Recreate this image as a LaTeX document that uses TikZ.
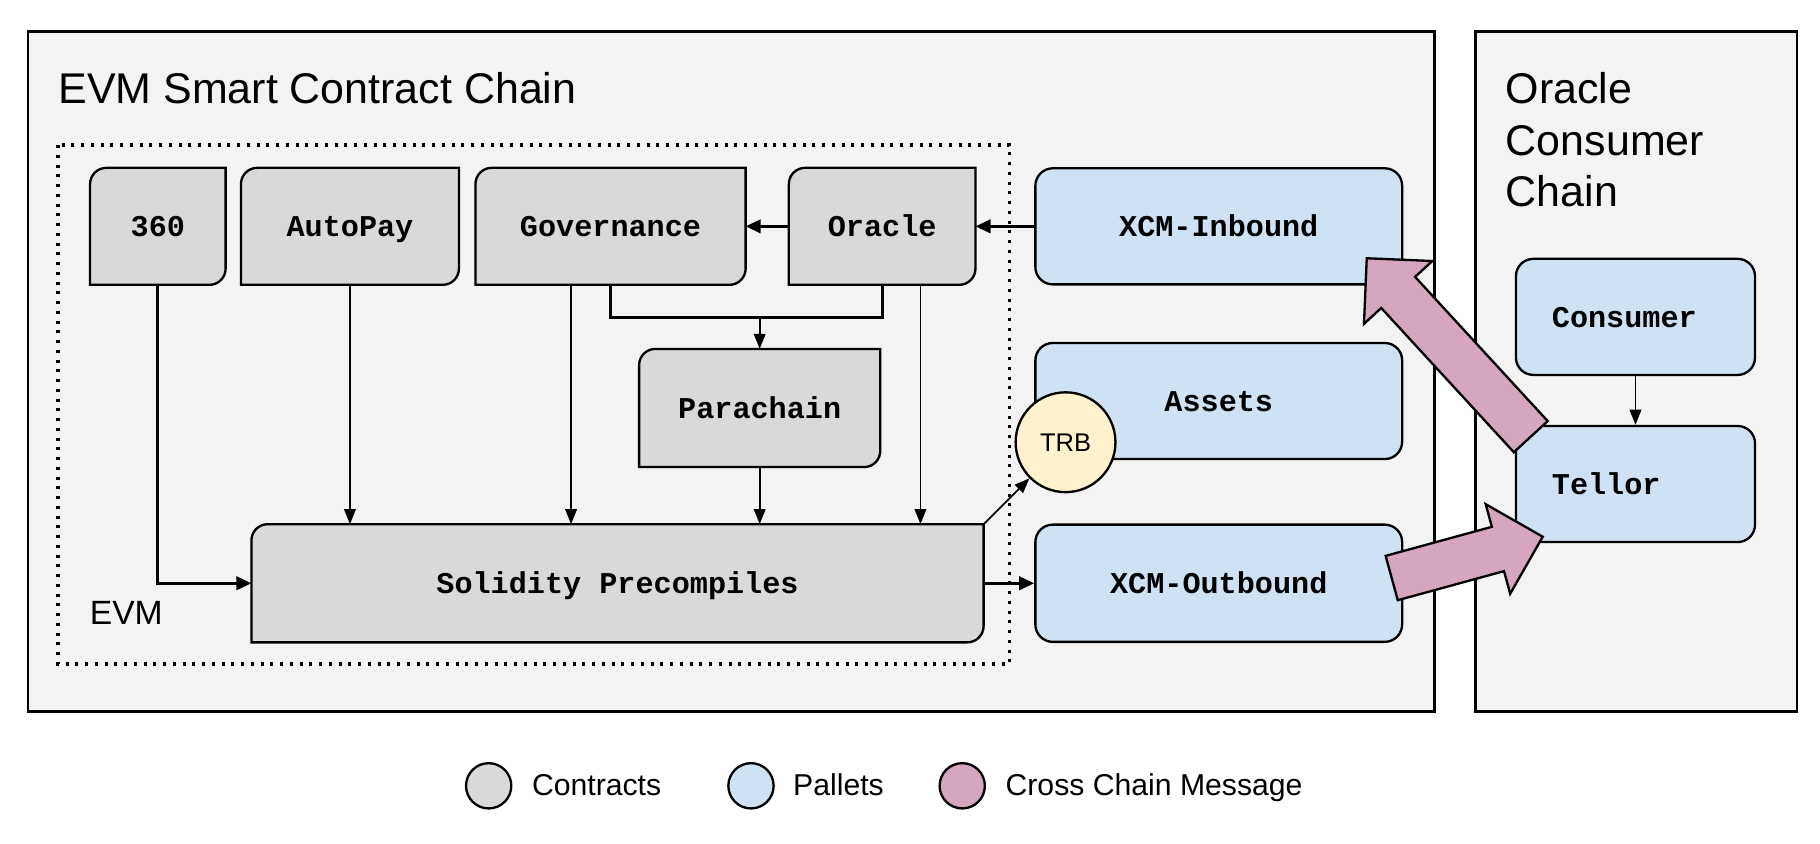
\documentclass[tikz,border=0pt]{standalone}
\usepackage{fontspec}
\setmainfont{Liberation Sans}
\setmonofont{Liberation Mono}
\usetikzlibrary{arrows.meta,calc}
\definecolor{cgray}{HTML}{D9D9D9}
\definecolor{cblue}{HTML}{CFE2F3}
\definecolor{cpink}{HTML}{D5A6BD}
\definecolor{cyel}{HTML}{FFF2CC}
\definecolor{cbg}{HTML}{F3F3F3}
\pgfdeclarelayer{back}
\pgfdeclarelayer{mid}
\pgfsetlayers{back,mid,main}
\newcommand\ctshape[1]{%
  \draw[line width=1pt, fill=cgray] (#1.south west) -- ([yshift=-7pt]#1.north west)
    arc[start angle=180,end angle=90,radius=7pt] -- (#1.north east)
    -- ([yshift=7pt]#1.south east) arc[start angle=0,end angle=-90,radius=7pt] -- cycle;}
\newcommand\xcmarrow[3]{% tail, tip, base name
  \coordinate (#3) at ($(#2)!20pt!(#1)$);
  \draw[line width=1pt, fill=cpink, line join=miter]
    ($(#1)!9.9pt!90:(#2)$) -- ($(#3)!9.9pt!90:(#2)$) -- ($(#3)!20pt!90:(#2)$) -- (#2)
    -- ($(#3)!20pt!-90:(#2)$) -- ($(#3)!9.9pt!-90:(#2)$) -- ($(#1)!9.9pt!-90:(#2)$) -- cycle;}
\begin{document}
\begin{tikzpicture}[x=0.5pt,y=-0.5pt,
  lbl/.style={font=\ttfamily\bfseries\fontsize{13}{15}\selectfont, inner sep=0pt, text height=9pt, text depth=0pt},
  ct/.style={lbl, minimum height=50pt},
  pl/.style={lbl, draw, line width=1pt, fill=cblue, rounded corners=7.5pt, minimum height=50pt},
  thinarr/.style={line width=0.75pt, -{Triangle[length=6.5pt,width=5pt]}},
  thickarr/.style={line width=1.2pt, -{Triangle[length=6.5pt,width=5.8pt]}},
  chain/.style={draw, line width=1.1pt, fill=cbg},
  title/.style={font=\fontsize{18.5}{22.25}\selectfont, inner sep=0pt},
  legc/.style={circle, draw, line width=1pt, minimum size=19.5pt, inner sep=0pt},
  legt/.style={font=\fontsize{13}{15}\selectfont, inner sep=0pt, anchor=base west}]
\useasboundingbox (0,0) rectangle (1568,727);

% chain frames
\begin{pgfonlayer}{back}
\fill[white] (0,0) rectangle (1568,727);
\draw[chain] (24,27) rectangle (1236,613);
\draw[chain] (1271,27) rectangle (1548,613);
\draw[line width=1.4pt, dash pattern=on 1.3pt off 2.9pt] (50,125) rectangle (870,572);
\end{pgfonlayer}

\node[title, anchor=base west] (t1) at (50,89) {EVM Smart Contract Chain};
\node[title, anchor=north west, align=left] (t2) at (1297,62) {Oracle\\Consumer\\Chain};
\node[font=\fontsize{14.5}{17}\selectfont, inner sep=0pt, anchor=base west] (tevm) at (77,538) {EVM};

% contracts
\node[ct, minimum width=58pt] (c360) at (136,195) {360};
\node[ct, minimum width=93.5pt] (auto) at (301.5,195) {AutoPay};
\node[ct, minimum width=116pt] (gov) at (526,195) {Governance};
\node[ct, minimum width=80pt] (orc) at (760,195) {Oracle};
\node[ct, minimum width=103.5pt, minimum height=50.5pt] (para) at (654.5,351.5) {Parachain};
\node[ct, minimum width=315pt, minimum height=50.5pt] (sol) at (532,502.5) {Solidity Precompiles};
\begin{pgfonlayer}{mid}
\ctshape{c360}\ctshape{auto}\ctshape{gov}\ctshape{orc}\ctshape{para}\ctshape{sol}
\end{pgfonlayer}

% pallets
\node[pl, minimum width=158pt] (xin) at (1050,195) {XCM-Inbound};
\node[pl, minimum width=158pt] (assets) at (1050,345.5) {Assets};
\node[pl, minimum width=158pt, minimum height=50.5pt] (xout) at (1050,502.5) {XCM-Outbound};
\node[pl, text width=72pt, inner xsep=15.5pt, align=left] (cons) at (1409,273) {Consumer};
\node[pl, text width=72pt, inner xsep=15.5pt, align=left] (tel) at (1409,417) {Tellor};
\node[circle, draw, line width=1pt, fill=cyel, minimum size=43pt, inner sep=0pt,
      font=\fontsize{11}{13}\selectfont] (trb) at (918,381) {TRB};

% connectors
\draw[thickarr] (orc.west) -- (gov.east);
\draw[thickarr] (xin.west) -- (orc.east);
\draw[line width=1.2pt] (gov.south) -- ++(0,28) -| (orc.south);
\coordinate (pj) at ($(para.north)+(0,-28)$);
\draw[thinarr] (pj) -- (para.north);
\draw[thickarr] (c360.south) |- (sol.west);
\draw[thinarr] (auto.south) -- (auto.south |- sol.north);
\draw[thinarr] ([xshift=-17pt]gov.south) -- ([xshift=-17pt]gov.south |- sol.north);
\draw[thinarr] (para.south) -- (para.south |- sol.north);
\draw[thinarr] ([xshift=16.5pt]orc.south) -- ([xshift=16.5pt]orc.south |- sol.north);
\draw[thinarr] (sol.north east) -- (trb);
\draw[thickarr] (sol.east) -- (xout.west);
\draw[thinarr] (cons.south) -- (tel.north);

% cross chain messages
\coordinate (a1t) at (1318.8,376.2);
\coordinate (a1p) at (1177.5,222.5);
\xcmarrow{a1t}{a1p}{a1b}
\coordinate (a2t) at (1199,498);
\coordinate (a2p) at (1329.1,462.4);
\xcmarrow{a2t}{a2p}{a2b}

% legend
\node[legc, fill=cgray] (lg1) at (421,677) {};
\node[legt] (lt1) at (458,685) {Contracts};
\node[legc, fill=cblue] (lg2) at (647,677) {};
\node[legt] (lt2) at (683,685) {Pallets};
\node[legc, fill=cpink] (lg3) at (829,677) {};
\node[legt] (lt3) at (866,685) {Cross Chain Message};
\end{tikzpicture}
\end{document}
